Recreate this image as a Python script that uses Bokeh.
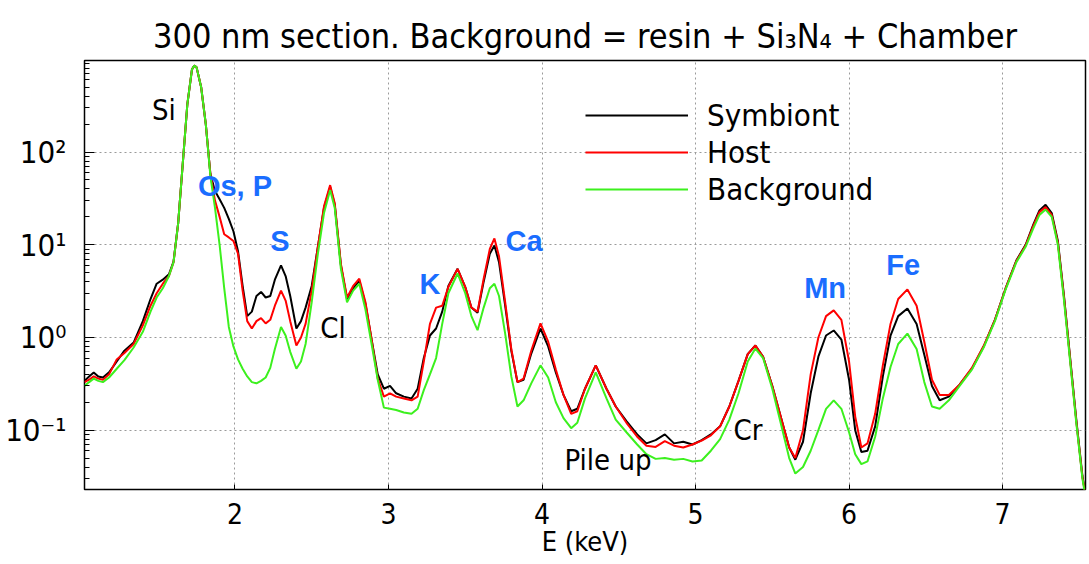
from bokeh.plotting import figure
from bokeh.models import Range1d, FixedTicker, CustomJSTickFormatter, Legend, LegendItem, ColumnDataSource
from bokeh.core.properties import value
from bokeh.embed import file_html
from bokeh.resources import INLINE

# ---------------- data ----------------
energy = [1.02, 1.05, 1.08, 1.11, 1.14, 1.18, 1.23, 1.28, 1.34, 1.40, 1.45, 1.49, 1.53, 1.57, 1.60,
          1.63, 1.66, 1.69, 1.72, 1.735, 1.75, 1.78, 1.81, 1.84, 1.87, 1.90, 1.93, 1.96, 1.99, 2.02,
          2.05, 2.08, 2.11, 2.14, 2.17, 2.20, 2.23, 2.26, 2.30, 2.33, 2.36, 2.40, 2.43, 2.46, 2.50,
          2.54, 2.58, 2.62, 2.65, 2.69, 2.73, 2.77, 2.81, 2.85, 2.89, 2.93, 2.97, 3.01, 3.05, 3.10,
          3.15, 3.19, 3.23, 3.27, 3.31, 3.35, 3.39, 3.45, 3.50, 3.54, 3.58, 3.62, 3.66, 3.69, 3.72,
          3.76, 3.80, 3.84, 3.88, 3.93, 3.99, 4.04, 4.09, 4.14, 4.19, 4.23, 4.28, 4.35, 4.42, 4.48,
          4.55, 4.62, 4.68, 4.74, 4.80, 4.86, 4.92, 4.98, 5.04, 5.10, 5.16, 5.22, 5.28, 5.34, 5.39,
          5.44, 5.50, 5.56, 5.61, 5.65, 5.70, 5.75, 5.80, 5.85, 5.90, 5.95, 6.00, 6.04, 6.08, 6.12,
          6.17, 6.22, 6.27, 6.32, 6.38, 6.44, 6.49, 6.54, 6.59, 6.65, 6.72, 6.80, 6.88, 6.95, 7.02,
          7.09, 7.15, 7.20, 7.24, 7.28, 7.32, 7.36, 7.40, 7.44, 7.48, 7.52, 7.55]

symbiont = [0.34, 0.38, 0.42, 0.38, 0.37, 0.42, 0.55, 0.72, 0.88, 1.5, 2.6, 3.8, 4.2, 4.8, 6.6,
            17, 75, 330, 780, 860, 820, 500, 200, 58, 38, 31, 25, 19, 14, 8.5,
            3.6, 1.7, 1.9, 2.8, 3.1, 2.7, 2.8, 4.2, 6.0, 4.6, 2.8, 1.25, 1.5, 2.1, 3.6,
            9.5, 25, 42, 27, 6.0, 2.6, 3.4, 4.1, 2.3, 0.95, 0.40, 0.28, 0.30, 0.25, 0.23,
            0.22, 0.28, 0.60, 1.05, 1.25, 1.9, 3.6, 5.5, 3.5, 2.1, 1.85, 4.0, 8.0, 9.8, 6.5,
            2.2, 0.72, 0.33, 0.35, 0.67, 1.25, 0.80, 0.42, 0.24, 0.16, 0.17, 0.28, 0.50, 0.28, 0.18,
            0.125, 0.09, 0.072, 0.078, 0.09, 0.072, 0.075, 0.07, 0.078, 0.09, 0.11, 0.18, 0.34, 0.66, 0.82,
            0.62, 0.30, 0.13, 0.065, 0.048, 0.075, 0.25, 0.62, 1.05, 1.19, 0.95, 0.35, 0.10, 0.058, 0.060,
            0.11, 0.38, 1.05, 1.7, 2.05, 1.4, 0.65, 0.30, 0.21, 0.23, 0.31, 0.46, 0.82, 1.55, 3.4,
            6.8, 10, 16.5, 23.5, 27, 22, 11, 2.8, 0.6, 0.13, 0.032, 0.016]

host = [0.33, 0.35, 0.38, 0.36, 0.35, 0.40, 0.58, 0.68, 0.85, 1.35, 2.2, 3.0, 3.8, 4.6, 6.5,
        17, 75, 330, 780, 860, 820, 500, 200, 58, 30, 20, 13, 12, 11, 8.0,
        3.2, 1.5, 1.25, 1.5, 1.62, 1.42, 1.55, 2.2, 3.2, 2.5, 1.5, 0.82, 1.0, 1.4, 3.2,
        9.5, 26, 44, 28, 6.2, 2.7, 3.6, 4.3, 2.4, 0.95, 0.36, 0.23, 0.25, 0.23, 0.22,
        0.21, 0.23, 0.55, 1.4, 2.1, 2.2, 3.5, 5.5, 3.5, 2.1, 1.9, 4.3, 9.0, 11.7, 7.5,
        2.4, 0.75, 0.33, 0.36, 0.72, 1.42, 0.90, 0.45, 0.24, 0.15, 0.16, 0.28, 0.50, 0.28, 0.18,
        0.12, 0.085, 0.068, 0.066, 0.076, 0.068, 0.065, 0.07, 0.077, 0.088, 0.11, 0.18, 0.34, 0.66, 0.82,
        0.62, 0.30, 0.13, 0.065, 0.05, 0.10, 0.40, 1.0, 1.7, 1.96, 1.55, 0.55, 0.14, 0.065, 0.072,
        0.15, 0.50, 1.4, 2.6, 3.3, 2.2, 0.90, 0.35, 0.24, 0.24, 0.31, 0.47, 0.83, 1.55, 3.4,
        6.7, 9.8, 16, 22.5, 25.5, 21, 10.5, 2.7, 0.58, 0.125, 0.031, 0.016]

background = [0.30, 0.33, 0.36, 0.34, 0.33, 0.37, 0.46, 0.57, 0.78, 1.15, 1.9, 2.7, 3.4, 4.6, 6.5,
              17, 75, 330, 780, 860, 820, 500, 200, 55, 25, 10, 3.4, 1.3, 0.80, 0.58,
              0.46, 0.38, 0.33, 0.32, 0.34, 0.37, 0.47, 0.75, 1.30, 1.05, 0.70, 0.46, 0.55, 0.85, 2.4,
              8.0, 22, 39, 25, 5.5, 2.4, 3.2, 3.8, 2.0, 0.85, 0.35, 0.175, 0.17, 0.165, 0.155,
              0.15, 0.17, 0.27, 0.40, 0.60, 1.4, 3.0, 4.9, 3.0, 1.7, 1.2, 2.1, 3.4, 3.8, 2.8,
              1.1, 0.38, 0.18, 0.21, 0.32, 0.50, 0.37, 0.20, 0.135, 0.105, 0.12, 0.22, 0.42, 0.22, 0.13,
              0.095, 0.07, 0.055, 0.049, 0.05, 0.048, 0.049, 0.046, 0.047, 0.06, 0.08, 0.13, 0.25, 0.55, 0.76,
              0.60, 0.28, 0.11, 0.05, 0.034, 0.040, 0.06, 0.10, 0.17, 0.21, 0.17, 0.095, 0.055, 0.043, 0.046,
              0.085, 0.22, 0.48, 0.85, 1.10, 0.75, 0.33, 0.18, 0.17, 0.21, 0.30, 0.45, 0.80, 1.5, 3.3,
              6.5, 9.5, 15, 21, 24, 20, 10, 2.5, 0.55, 0.12, 0.03, 0.015]

series_names = ["Symbiont", "Host", "Background"]
series_colors = ["#000000", "#ff0000", "#3cf01e"]

x_ticks = [2, 3, 4, 5, 6, 7]
y_ticks = [0.1, 1, 10, 100]

# element annotations
ann_text = ["Si", "Os, P", "S", "Cl", "K", "Ca", "Pile up", "Cr", "Mn", "Fe"]
ann_e = [1.537, 2.0, 2.293, 2.638, 3.27, 3.883, 4.43, 5.342, 5.844, 6.352]
ann_v = [281, 42.6, 11.1, 1.25, 3.82, 10.86, 0.0471, 0.0993, 3.38, 5.98]
ann_blue = [False, True, True, False, True, True, False, False, True, True]

FONT = "DejaVu Sans Condensed"
BOLDFONT = "Liberation Sans"
BLUE = "#1a6dff"

# ---------------- figure ----------------
p = figure(width=1089, height=564, output_backend="svg", toolbar_location=None,
           y_axis_type="log",
           x_range=Range1d(1.02, 7.54), y_range=Range1d(0.0229, 973),
           min_border_left=84, min_border_right=4, min_border_top=60, min_border_bottom=75)

p.title.text = "300 nm section. Background = resin + Si\u2083N\u2084 + Chamber"
p.title.align = "center"
p.title.text_font = FONT
p.title.text_font_size = "34px"
p.title.text_font_style = "normal"
p.title.text_color = "black"
p.title.standoff = 10

p.outline_line_color = "black"
p.outline_line_width = 1.5
p.background_fill_color = "white"
p.border_fill_color = "white"

# axes
xa = p.xaxis[0]
xa.ticker = FixedTicker(ticks=x_ticks)
xa.axis_label = "E (keV)"
xa.axis_label_text_font = FONT
xa.axis_label_text_font_size = "27px"
xa.axis_label_text_font_style = "normal"
xa.axis_label_text_color = "black"
xa.axis_label_standoff = -1
xa.major_label_text_font = FONT
xa.major_label_text_font_size = "28px"
xa.major_label_text_color = "black"
xa.major_label_standoff = 13
xa.major_tick_in = 5
xa.major_tick_out = 0
xa.minor_tick_line_color = None
xa.axis_line_color = None

ya = p.yaxis[0]
minor = []
for d in [0.01, 0.1, 1, 10, 100]:
    for k in range(2, 10):
        minor.append(d * k)
ya.ticker = FixedTicker(ticks=y_ticks, minor_ticks=minor)
ya.formatter = CustomJSTickFormatter(code="""
const m = {"-1": "10\u207b\u00b9", "0": "10\u2070", "1": "10\u00b9", "2": "10\u00b2"};
const k = String(Math.round(Math.log10(tick)));
return (k in m) ? m[k] : "";
""")
ya.major_label_text_font = FONT
ya.major_label_text_font_size = "31px"
ya.major_label_text_color = "black"
ya.major_label_standoff = 18
ya.major_tick_in = 10
ya.major_tick_out = 0
ya.minor_tick_in = 5
ya.minor_tick_out = 0
ya.axis_line_color = None

# grid
for g in (p.xgrid[0], p.ygrid[0]):
    g.grid_line_color = "#9a9a9a"
    g.grid_line_dash = "2 3"
    g.grid_line_width = 1
p.xgrid[0].ticker = FixedTicker(ticks=x_ticks)
p.ygrid[0].ticker = FixedTicker(ticks=y_ticks)

# curves
src = ColumnDataSource(dict(e=energy, Symbiont=symbiont, Host=host, Background=background))
renderers = []
for name, col in zip(series_names, series_colors):
    r = p.line("e", name, source=src, line_color=col, line_width=2)
    renderers.append(r)

# legend: one box per entry so that the row pitch matches the reference
row_bottoms = [356, 319, 282]
for n, r, vy in zip(series_names, renderers, row_bottoms):
    lg = Legend(items=[LegendItem(label=n, renderers=[r])], location=(501, vy))
    lg.label_text_font = FONT
    lg.label_text_font_size = "31px"
    lg.label_text_color = "black"
    lg.glyph_width = 103
    lg.glyph_height = 30
    lg.label_height = 30
    lg.label_standoff = 19
    lg.spacing = 0
    lg.padding = 0
    lg.margin = 0
    lg.border_line_color = None
    lg.background_fill_alpha = 0
    p.add_layout(lg)

# annotations
ann_src = ColumnDataSource(dict(
    x=ann_e, y=ann_v, t=ann_text,
    c=[BLUE if b else "black" for b in ann_blue],
    s=["bold" if b else "normal" for b in ann_blue],
    f=[BOLDFONT if b else FONT for b in ann_blue],
))
p.text(x="x", y="y", text="t", source=ann_src, text_color="c", text_font_style="s",
       text_font="f", text_font_size="29px", text_align="center", text_baseline="middle")

open("out.html", "w").write(file_html(p, INLINE))
